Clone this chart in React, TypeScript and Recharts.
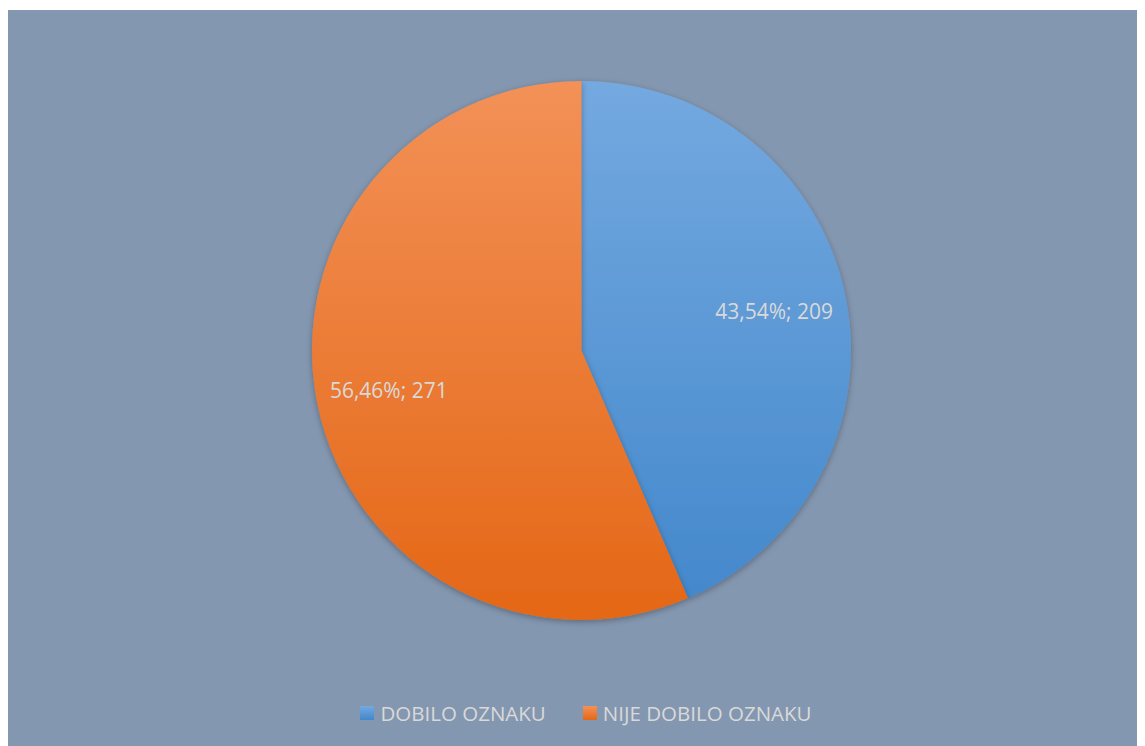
import React from 'react';
import { PieChart, Pie, Cell, Legend } from 'recharts';

const categories = ['DOBILO OZNAKU', 'NIJE DOBILO OZNAKU'];
const counts = [209, 271];
const colorsTop = ['#74A9E0', '#F39157'];
const colorsBottom = ['#4287CB', '#E46716'];

const data = categories.map((name, i) => ({ name, value: counts[i] }));

const W = 1138;
const H = 736;
const CX = 574.5;
const CY = 340.5;
const R = 269.5;

const RADIAN = Math.PI / 180;

const renderLabel = (props: any) => {
    const { cx, cy, midAngle, outerRadius, percent, value } = props;
    const rr = outerRadius * 0.73;
    const x = cx + rr * Math.cos(-midAngle * RADIAN);
    const y = cy + rr * Math.sin(-midAngle * RADIAN);
    const pct = (percent * 100).toFixed(2).replace('.', ',');
    return (
        <text
            x={x}
            y={y}
            fill="#D9D9D9"
            textAnchor="middle"
            dominantBaseline="central"
            fontSize={21}
            fontFamily="'Open Sans', sans-serif"
        >
            {`${pct}%; ${value}`}
        </text>
    );
};

const renderLegend = () => (
    <div style={{
        display: 'flex',
        justifyContent: 'center',
        gap: '37px',
        paddingLeft: '20px',
        fontFamily: "'Open Sans', sans-serif",
        fontSize: '20.5px',
        color: '#D9D9D9',
    }}>
        {categories.map((name, i) => (
            <div key={name} style={{ display: 'flex', alignItems: 'center', gap: '6px' }}>
                <div style={{
                    width: '14px',
                    height: '14px',
                    background: `linear-gradient(${colorsTop[i]}, ${colorsBottom[i]})`,
                }} />
                {name}
            </div>
        ))}
    </div>
);

export default function App() {
    return (
        <div style={{ marginLeft: -1, marginTop: 2, width: W, height: H, background: '#8497B0' }}>
            <PieChart width={W} height={H} margin={{ top: 0, right: 0, bottom: 0, left: 0 }}>
                <defs>
                    {categories.map((_, i) => (
                        <linearGradient
                            key={i}
                            id={`grad-${i}`}
                            gradientUnits="userSpaceOnUse"
                            x1={0}
                            y1={CY - R}
                            x2={0}
                            y2={CY + R}
                        >
                            <stop offset="0%" stopColor={colorsTop[i]} />
                            <stop offset="100%" stopColor={colorsBottom[i]} />
                        </linearGradient>
                    ))}
                    <filter id="pie-shadow" x="-10%" y="-10%" width="120%" height="120%">
                        <feDropShadow dx="0" dy="2" stdDeviation="3" floodColor="#000" floodOpacity="0.3" />
                    </filter>
                </defs>
                <Pie
                    data={data}
                    dataKey="value"
                    nameKey="name"
                    cx={CX}
                    cy={CY}
                    outerRadius={R}
                    startAngle={90}
                    endAngle={-270}
                    stroke="none"
                    labelLine={false}
                    label={renderLabel}
                    isAnimationActive={false}
                    style={{ filter: 'url(#pie-shadow)' }}
                >
                    {data.map((_, i) => (
                        <Cell key={`cell-${i}`} fill={`url(#grad-${i})`} />
                    ))}
                </Pie>
                <Legend
                    verticalAlign="bottom"
                    content={renderLegend}
                    wrapperStyle={{ bottom: 19 }}
                />
            </PieChart>
        </div>
    );
}
